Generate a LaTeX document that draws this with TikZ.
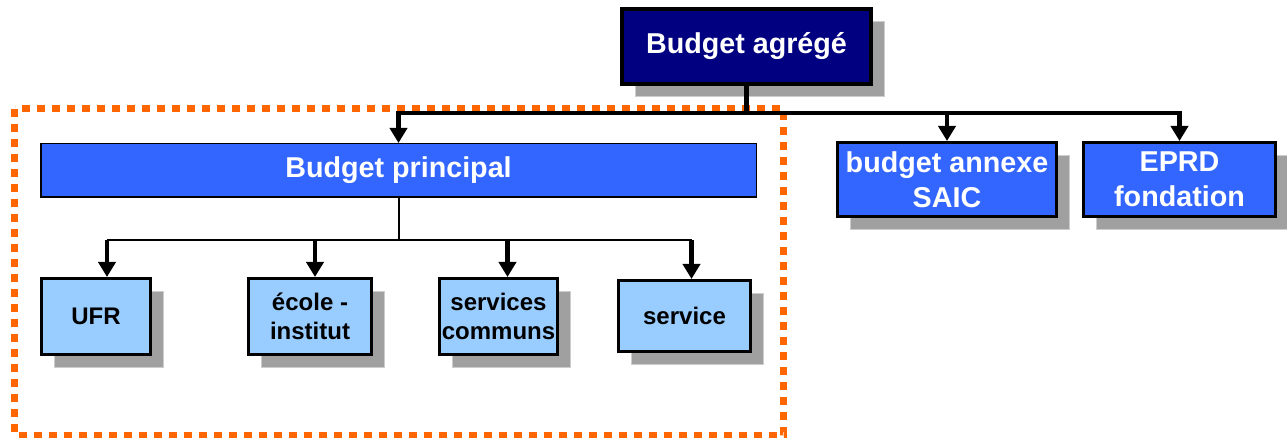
\documentclass[tikz,border=0pt]{standalone}
\usepackage{fontspec}
\setmainfont{Liberation Sans}
\definecolor{budgetnavy}{RGB}{0,0,128}
\definecolor{budgetblue}{RGB}{51,102,255}
\definecolor{budgetlight}{RGB}{153,204,255}
\definecolor{budgetshadow}{RGB}{160,160,160}
\definecolor{budgetedge}{RGB}{205,205,205}
\definecolor{budgetorange}{RGB}{255,102,0}
\usetikzlibrary{arrows.meta,shadows,calc}

\tikzset{
  unitbox/.style={rectangle, draw=black, align=center, inner sep=0pt, font=\bfseries},
  withshadow/.style={general shadow={fill=budgetshadow, draw=budgetedge, line width=1pt,
      shadow xshift=13pt, shadow yshift=-13pt}},
  topbox/.style={unitbox, withshadow, text=white, line width=3.3pt,
      font=\bfseries\fontsize{28.7}{35}\selectfont},
  lowbox/.style={unitbox, withshadow, fill=budgetlight, line width=3.3pt,
      minimum height=75.7pt, font=\bfseries\fontsize{24}{29}\selectfont},
  busline/.style={line width=4.5pt},
  thinline/.style={line width=2pt},
  downarrow/.style={line width=4.5pt, -{Triangle[width=17pt,length=15pt]}}
}

\begin{document}
\begin{tikzpicture}[x=1pt, y=-1pt]
    \useasboundingbox (0,0) rectangle (1287,438);
    % dotted frame round the budget principal
    \draw[budgetorange, line width=7pt, dash pattern=on 8pt off 7pt] (14.5,109) rectangle (783.5,435);

    % Budget agrégé and its three budgets
    \node[topbox, fill=budgetnavy, line width=4pt, minimum width=249pt, minimum height=75pt]
        (agrege) at (746.5,46.5) {Budget agrégé};
    \node[unitbox, fill=budgetblue, text=white, line width=1.5pt, minimum width=715.5pt,
        minimum height=53.5pt, font=\bfseries\fontsize{28.7}{35}\selectfont]
        (principal) at (398.5,170.5) {Budget principal};
    \node[topbox, fill=budgetblue, minimum width=218.7pt, minimum height=73.7pt]
        (saic) at (947,179.5) {budget annexe\\SAIC};
    \node[topbox, fill=budgetblue, minimum width=191.7pt, minimum height=73.7pt]
        (eprd) at (1179.5,179.5) {EPRD\\fondation};

    \draw[busline] (agrege.south) -- ++(0,27) coordinate (topbus);
    \draw[downarrow] (topbus) -| (principal.north);
    \draw[downarrow] (topbus) -| (saic.north);
    \draw[downarrow] (topbus) -| (eprd.north);

    % units of the budget principal
    \node[lowbox, minimum width=108.7pt] (ufr) at (96,316.5) {UFR};
    \node[lowbox, minimum width=122.7pt] (ecole) at (310,316.5) {école -\\institut};
    \node[lowbox, minimum width=117.7pt] (communs) at (498.5,316.5) {services\\communs};
    \node[lowbox, minimum width=131.7pt, minimum height=70.7pt] (service) at (684.5,316) {service};

    \coordinate (ufrin) at ([xshift=11pt]ufr.north);
    \coordinate (ecolein) at ([xshift=5pt]ecole.north);
    \coordinate (communsin) at ([xshift=9pt]communs.north);
    \coordinate (servicein) at ([xshift=7pt]service.north);

    \draw[thinline] (principal.south) -- ++(0,42) coordinate (lowbus);
    \draw[thinline] (ufrin |- lowbus) -- (servicein |- lowbus);
    \foreach \unit in {ufrin, ecolein, communsin, servicein}
        \draw[downarrow] (\unit |- lowbus) -- (\unit);
\end{tikzpicture}
\end{document}
